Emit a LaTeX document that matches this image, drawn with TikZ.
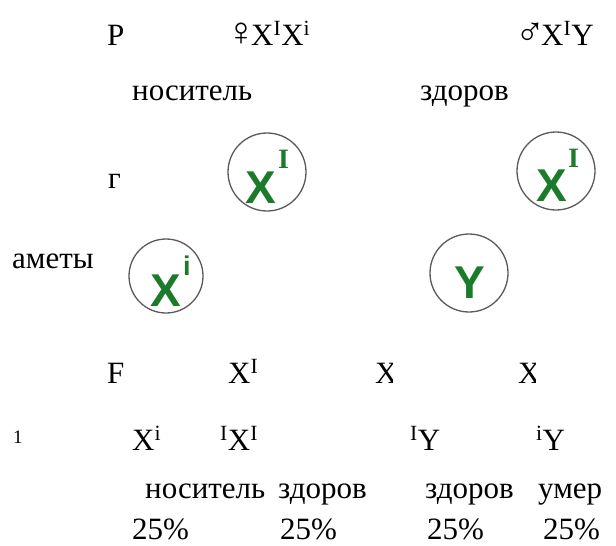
\documentclass[tikz,border=0pt]{standalone}
\usepackage{fontspec}
\setmainfont{Liberation Serif}
\newfontfamily\tnr{Liberation Serif}
\newfontfamily\gsans{Liberation Sans}
\definecolor{gengreen}{HTML}{1B7B2B}
\definecolor{ringgray}{HTML}{5A5A5A}
\newcommand\bigsym[1]{{\fontsize{40}{40}\selectfont #1}}
\begin{document}
\begin{tikzpicture}[x=1pt,y=-1pt,
  txt/.style={anchor=base west,inner sep=0pt,font=\tnr\fontsize{31}{34}\selectfont},
  small/.style={anchor=base west,inner sep=0pt,font=\tnr\fontsize{19}{21}\selectfont},
  ring/.style={draw=ringgray,line width=1.3pt,circle,inner sep=0pt,minimum size=#1},
  gX/.style={anchor=base west,inner sep=0pt,text=gengreen,font=\gsans\bfseries\fontsize{46}{46}\selectfont},
  gsup/.style={anchor=base west,inner sep=0pt,text=gengreen,font=\tnr\bfseries\fontsize{28}{28}\selectfont},
  gsupi/.style={anchor=base west,inner sep=0pt,text=gengreen,font=\gsans\bfseries\fontsize{27}{27}\selectfont}]
\useasboundingbox (0,0) rectangle (616,546);
% row P
\node[txt] (p) at (107,45) {P};
\node[txt] (fem) at (226,45) {\bigsym{♀}\kern-5pt X\textsuperscript{I}X\textsuperscript{i}};
\node[txt] (mal) at (515,45) {\bigsym{♂}\kern-4pt X\textsuperscript{I}Y};
\node[txt] (nos1) at (132,100) {носитель};
\node[txt] (zd1) at (420,100) {здоров};
% gametes
\node[txt] (g) at (108,188) {г};
\node[txt] (am) at (12,268) {аметы};
\node[ring=78pt] (c1) at (267,172) {};
\node[gX] (c1x) at (245,203) {X};
\node[gsup] (c1s) at (278,168) {I};
\node[ring=78pt] (c2) at (556,171) {};
\node[gX] (c2x) at (536,201) {X};
\node[gsup] (c2s) at (568,167) {I};
\node[ring=74pt] (c3) at (166,276) {};
\node[gX] (c3x) at (150,306) {X};
\node[gsupi] (c3s) at (183,275) {i};
\node[ring=78pt] (c4) at (469,273) {};
\node[gX] (c4x) at (454,298) {Y};
% F1
\node[txt] (f) at (107,383) {F};
\node[txt] (fx1) at (228,383) {X\textsuperscript{I}};
\begin{scope}
\clip (370,340) rectangle (392,400);
\node[txt] (fx2) at (375,383) {X};
\end{scope}
\begin{scope}
\clip (513,340) rectangle (535,400);
\node[txt] (fx3) at (518,383) {X};
\end{scope}
\node[small] (one) at (13,443) {1};
\node[txt] (o1) at (132,450) {X\textsuperscript{i}};
\node[txt] (o2) at (220,450) {\textsuperscript{I}X\textsuperscript{I}};
\node[txt] (o3) at (410,450) {\textsuperscript{I}Y};
\node[txt] (o4) at (536,450) {\textsuperscript{i}Y};
\node[txt] (n1) at (145,498) {носитель};
\node[txt] (n2) at (278,498) {здоров};
\node[txt] (n3) at (425,498) {здоров};
\node[txt] (n4) at (538,498) {умер};
\node[txt] (q1) at (132,539) {25\%};
\node[txt] (q2) at (280,539) {25\%};
\node[txt] (q3) at (427,539) {25\%};
\node[txt] (q4) at (543,539) {25\%};
\end{tikzpicture}
\end{document}
